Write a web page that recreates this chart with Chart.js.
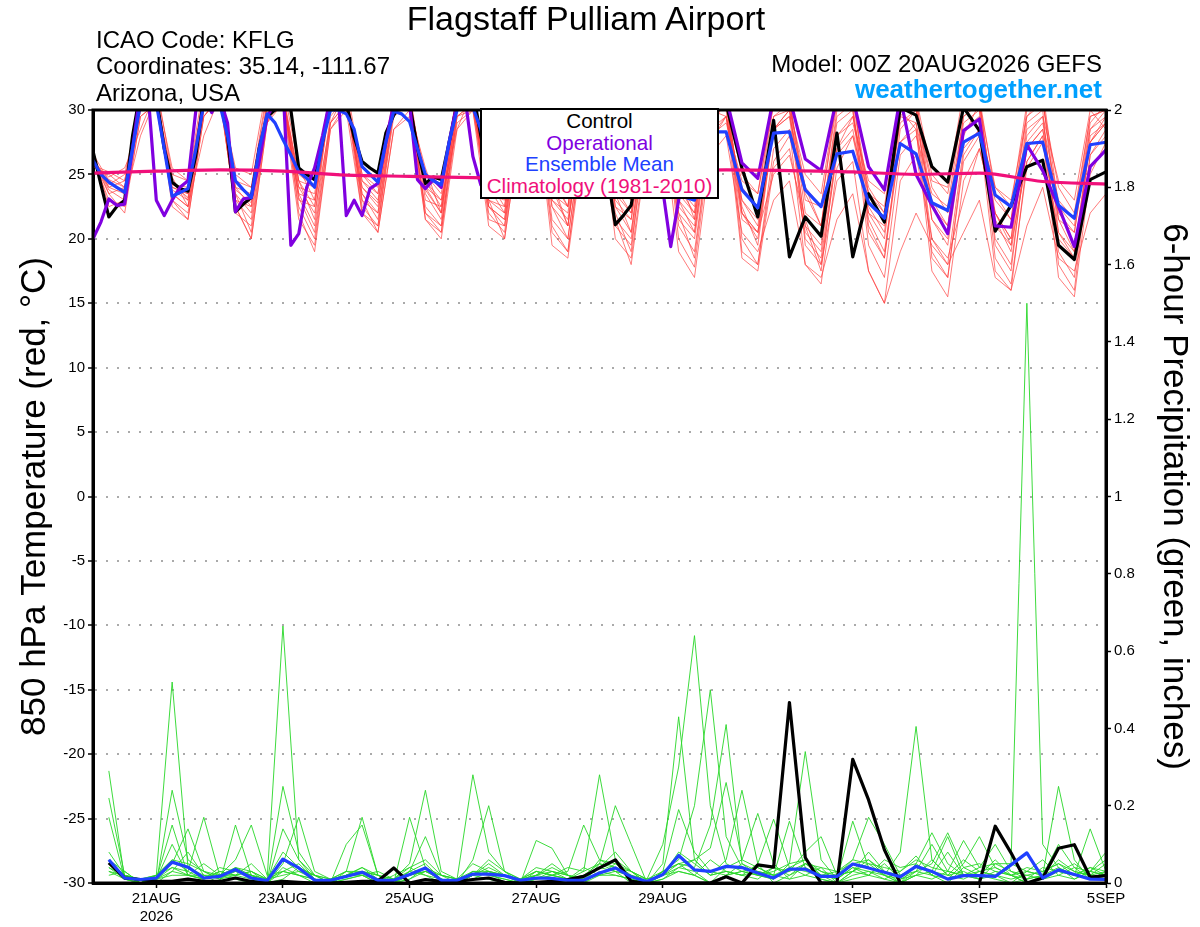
<!DOCTYPE html>
<html><head><meta charset="utf-8">
<script src="https://cdn.jsdelivr.net/npm/chart.js@4.4.1/dist/chart.umd.min.js"></script>
<style>
html,body{margin:0;padding:0;background:#fff;}
body{width:1200px;height:927px;position:relative;overflow:hidden;font-family:"Liberation Sans",Arial,Helvetica,sans-serif;color:#000;}
#wrap{position:absolute;left:0;top:0;width:1200px;height:927px;}
.txt{position:absolute;white-space:nowrap;}
#title{left:0;top:1px;width:1172px;text-align:center;font-size:34px;line-height:34px;}
#info{left:96px;top:27px;font-size:24px;line-height:26.3px;}
#model{right:98px;top:51px;font-size:24px;line-height:26px;text-align:right;}
#site{right:98px;top:76px;font-size:26px;line-height:26px;font-weight:bold;color:#00a0ff;text-align:right;}
#legend{position:absolute;left:480px;top:108px;width:239px;height:91px;box-sizing:border-box;border:2px solid #000;background:#fff;text-align:center;font-size:20.6px;line-height:21.6px;padding-top:0;}
#legend div{margin:0;}
</style></head><body>
<div id="wrap"><canvas id="c" width="1200" height="927"></canvas></div>
<div class="txt" id="title">Flagstaff Pulliam Airport</div>
<div class="txt" id="info">ICAO Code: KFLG<br>Coordinates: 35.14, -111.67<br>Arizona, USA</div>
<div class="txt" id="model">Model: 00Z 20AUG2026 GEFS</div>
<div class="txt" id="site">weathertogether.net</div>
<div id="legend">
<div style="color:#000">Control</div>
<div style="color:#8000e0">Operational</div>
<div style="color:#2040ff">Ensemble Mean</div>
<div style="color:#f0107a">Climatology (1981-2010)</div>
</div>
<script>
// ---------- time grids (hours after 00Z 20AUG2026) ----------
const mainHours = [];
for (let h = 0; h <= 240; h += 3) mainHours.push(h);
for (let h = 246; h <= 384; h += 6) mainHours.push(h);
const memberHours = [];
for (let h = 0; h <= 384; h += 6) memberHours.push(h);
const precipHours = [];
for (let h = 6; h <= 384; h += 6) precipHours.push(h);
const climHours = [0,24,48,72,96,120,144,168,192,216,240,264,288,312,336,360,384];

// ---------- x tick labels ----------
const xTickHours = [24,72,120,168,216,288,336,384];
const xTickLabels = ['21AUG','23AUG','25AUG','27AUG','29AUG','1SEP','3SEP','5SEP'];
const yearLabel = '2026';

// ---------- 850 hPa temperature (deg C) ----------
const controlTemp = [
26.8,24.2,21.7,22.5,23.0,28.0,31.5,32.0,
31.0,27.0,24.4,23.9,23.7,26.5,31.0,32.5,
32.0,28.0,22.1,22.7,23.2,27.0,29.5,30.0,
31.0,30.0,25.5,25.0,24.6,27.5,31.0,32.0,
30.5,27.9,26.0,25.5,25.1,28.2,29.6,30.5,
30.5,27.0,24.3,24.8,24.6,27.5,30.5,32.0,
31.5,28.0,25.0,24.5,24.2,27.5,31.0,32.0,
31.0,28.0,25.0,24.0,23.5,27.0,31.0,31.5,
30.0,25.0,21.1,21.8,22.6,26.0,30.5,31.5,
30.5,27.0,24.0,24.5,24.5,27.5,30.5,31.0,
30.5,
25.5,21.7,29.2,18.6,21.7,20.2,28.2,18.6,23.5,21.3,30.2,29.6,
25.6,24.4,30.2,28.4,20.6,22.6,25.6,26.1,19.5,18.4,24.6,25.2];

const operationalTemp = [
20.0,21.3,23.1,22.6,22.7,27.0,31.5,31.0,
23.0,21.8,23.0,24.0,24.5,30.0,31.0,29.8,
31.0,29.0,22.1,23.1,23.2,26.0,29.5,30.5,
32.0,19.5,20.4,24.0,25.5,28.0,31.0,31.0,
21.8,23.0,21.8,23.9,24.3,27.5,30.5,31.0,
30.5,24.6,23.9,24.6,24.0,27.5,30.5,31.0,
26.4,24.2,24.5,24.0,23.8,27.0,30.5,31.0,
30.0,26.5,24.5,24.0,24.5,27.5,30.5,31.0,
30.0,27.0,25.0,24.0,24.5,27.5,30.5,30.0,
23.8,19.4,23.0,26.0,28.0,30.5,31.0,31.5,
31.0,
25.9,24.7,31.0,31.0,26.2,25.3,31.0,31.0,25.6,23.8,31.0,25.0,
22.6,20.4,28.4,29.3,21.0,20.9,27.3,25.3,22.5,19.4,25.6,26.9];

const meanTemp = [
26.1,25.0,24.4,24.0,23.6,27.0,30.5,30.5,
30.5,27.0,23.3,23.6,23.9,27.0,30.5,30.5,
30.5,28.0,24.5,23.8,23.2,27.0,29.7,29.0,
27.7,26.5,25.2,24.7,24.0,27.5,30.0,30.0,
29.7,28.5,25.6,25.0,24.4,27.5,29.9,29.7,
29.1,27.0,25.0,24.5,24.2,27.5,30.0,30.5,
30.2,28.5,25.5,24.8,24.5,27.5,30.0,30.2,
29.5,27.0,25.0,24.5,24.0,27.0,29.8,30.0,
29.0,26.5,24.5,24.0,23.8,26.5,29.5,30.0,
29.0,26.5,24.0,23.2,23.0,25.0,27.5,28.3,
28.3,
23.8,22.4,28.2,28.3,23.8,22.5,26.6,26.8,22.8,21.6,27.4,26.6,
22.8,22.2,27.5,28.2,23.4,22.5,27.4,27.5,22.6,21.6,27.3,27.5];

const climTemp = [25.1,25.25,25.35,25.25,24.95,24.85,24.75,24.7,24.9,25.2,25.35,25.3,25.2,25.0,25.1,24.45,24.25];

// ensemble members, 6-hourly 00Z 20AUG .. 00Z 5SEP
const tempMembers = [
[26.5, 23.5,24.0,30.5,31, 24.5,23.0,31,32, 23.5,22.0,30,31, 24.5,21.5,31,31, 25.0,24.0,30.5,30, 25.5,22.0,31,32, 23.0,22.5,31,31, 24.0,21.0,30,31, 22.5,20.5,29.5,31, 25.0,21.5,30,29.5, 22.0,20.0,28.5,30, 21.0,17.5,27.0,29.5, 23.5,22.0,31,30, 21.5,19.5,28,30.5, 24.0,23.0,29.5,31, 20.5,18.5,27.5,29],
[25.8, 24.8,25.5,28.5,31.5, 25.5,24.5,32,31, 24.0,23.5,29.0,32, 25.5,23.0,30.5,31, 24.0,22.5,31,31.5, 23.5,21.5,30,31, 25.0,24.0,32,31.5, 22.5,21.0,29.5,30.5, 24.5,23.5,31,30.5, 21.0,19.0,28,29, 24.5,23.5,31,31, 22.0,21.0,29,30, 19.5,17.0,26.5,28, 23.5,22.5,30.5,31, 21.0,19.5,28,29.5, 24.5,23.0,30,28.5],
[26.2, 23.0,22.5,29.5,30.5, 23.0,22.0,30,31.5, 22.0,21.0,29.5,30.5, 22.5,20.0,29,30.5, 23.5,21.5,30,31, 22.0,20.5,29.5,30, 21.0,20.0,28.5,30, 24.5,22.5,31,32, 23.0,21.5,30,31, 24.0,22.0,30.5,30, 18.5,17.5,25.5,27, 20.5,19.0,28,29.5, 24.0,22.0,30,28.5, 17.5,15.5,24.5,27, 22.0,20.0,29,30, 18.0,16.0,26.5,28],
[26.0, 24.0,24.5,31,31, 24.0,23.5,31.5,32, 25.0,24.0,31.5,31, 23.0,22.5,31,32, 25.0,23.5,31,30.5, 24.5,23.0,31,31.5, 24.0,22.0,30.5,31, 23.5,22.5,30.5,31, 22.0,19.0,29.5,30.5, 23.0,20.5,29,30.5, 25.0,23.5,30.5,31, 23.0,22.5,31,32, 21.0,18.5,28.5,30, 24.5,24.0,31.5,31, 23.5,21.5,30,31.5, 22.5,21.0,29,30.5],
[26.6, 24.5,23.5,30,31, 23.5,22.5,28.0,31, 22.5,20.0,29,31, 24.0,22.0,29.0,31.5, 22.5,21.0,30,30.5, 25.0,23.5,31.5,32, 22.5,21.0,29.5,30.5, 20.5,19.0,28,30, 23.5,22.0,30.5,31, 20.0,17.8,27.5,29.5, 23.0,21.5,29.5,30.5, 24.0,21.0,30,31, 22.5,20.5,29.5,29, 20.0,18.0,27,28.5, 17.5,16.0,26,28, 20.0,18.5,27.5,29.5],
[25.6, 25.0,24.0,31,32, 25.0,24.5,31,31.5, 23.0,22.5,30.5,30.5, 23.5,21.0,29.5,31, 24.5,23.0,31,31, 23.0,22.5,30.5,31, 23.5,23.0,31,32, 25.0,22.5,31,31, 21.5,20.0,29,30, 22.5,21.0,29.5,31, 20.0,18.0,27,28.5, 18.0,16.5,25.5,28, 22.0,20.0,29.5,31, 25.0,23.5,30.5,30, 19.5,17.5,27.5,29, 23.0,21.5,29.5,30],
[26.3, 23.8,23.0,30,31, 24.8,22.5,30.5,31.5, 24.5,23.0,29.5,31.5, 22.0,19.0,28.5,30.5, 25.5,24.5,31,31, 24.0,22.0,30,30.5, 22.0,20.5,29,30.5, 21.0,19.0,28.5,30, 25.0,23.0,31,31.5, 24.0,22.5,30.5,31, 22.5,19.5,28.5,30, 25.0,23.5,31,30, 21.5,19.0,27.5,28.5, 19.0,17.0,26.5,28.5, 24.0,22.5,30.5,31, 21.5,19.0,27.5,29],
[26.0, 24.2,25.0,30.5,30.5, 23.5,22.5,30,31, 23.5,20.5,29.5,31, 25.0,24.0,31.5,31.5, 23.5,22.0,30.5,31, 21.5,20.5,29,30, 24.5,22.5,30.5,31, 22.5,20.0,29,30, 20.0,18.5,27.5,29.5, 25.0,24.0,31.5,31.5, 22.0,20.5,25.0,26.5, 21.5,18.0,24.5,26.0, 17.5,15.0,24.5,26.5, 20.0,18.5,23.0,27.0, 22.0,19.5,26.0,28.0, 17.0,15.5,25,27.5],
[26.8, 22.5,23.0,28.0,31, 24.0,23.5,31,31.5, 24.5,24.0,31,31, 24.5,22.5,30.5,31, 23.0,20.5,28.5,29.5, 22.5,21.0,29.5,30.5, 23.0,22.0,30,31, 24.0,23.5,31,31.5, 22.5,21.5,29.5,30.5, 21.5,20.0,28.5,29.5, 24.0,22.5,30.5,31, 19.5,18.0,26.5,28, 23.5,22.5,30.5,31, 21.5,20.0,28.5,29.5, 18.5,16.5,25.5,27.5, 20.5,19.0,28,29],
[25.9, 24.6,24.0,31,31.5, 22.5,21.5,29.5,31, 25.5,25.0,32,31.5, 24.5,24.0,31.5,31.5, 24.5,23.5,31,31, 22.0,21.0,29.5,30.5, 23.0,20.0,28.5,30, 23.0,21.5,30,30.5, 24.0,22.0,30.5,31, 22.0,20.5,29,30.5, 23.0,21.0,29.5,30, 21.0,19.5,28,29, 24.5,23.5,31,31, 22.5,21.0,29.5,30.5, 22.0,20.0,28.5,29.5, 19.0,17.0,26.5,28.5],
[26.4, 24.0,23.5,30.5,31, 23.8,23.0,31,32, 24.0,22.5,30.5,31, 23.5,23.0,31,31, 22.0,21.0,29.5,30.5, 24.5,22.5,30.5,31, 22.5,21.5,29.5,30.5, 24.5,21.0,30,31, 21.0,19.5,28,29.5, 23.5,22.0,30,31, 19.0,18.0,26,28, 23.5,21.0,29.5,30.5, 20.5,18.5,27.5,29, 23.0,21.0,29,30, 20.0,18.0,27,28.5, 22.0,20.5,28.5,30],
[25.7, 25.2,24.5,31,31, 24.2,24.0,29.5,31, 23.0,21.5,30,30.5, 24.0,23.5,31,31.5, 23.0,22.0,30,30.5, 24.0,23.0,28.5,31.5, 21.5,21.0,29,30, 23.0,22.0,30,30.5, 23.5,20.5,29.5,30.5, 22.0,18.5,28,29.5, 21.5,20.5,28.5,29.5, 24.0,22.5,30.5,31, 23.5,21.5,30,31, 18.5,17.0,26,28, 23.0,21.5,29.5,30.5, 24.0,22.0,29.5,30],
[26.1, 23.5,22.0,29.5,30.5, 23.0,21.5,29.5,31, 22.5,20.0,29,30.5, 21.5,19.5,28.5,30, 22.0,20.5,28.5,30, 21.5,20.0,28.5,30, 22.5,21.5,29.5,30.5, 19.5,18.5,27.5,29, 21.5,18.0,27,29, 19.0,17.0,26.5,28, 20.5,19.0,23.0,24.5, 18.0,17.0,21.5,23.5, 17.5,15.0,19.0,22.0, 19.5,18.0,20.5,23.0, 17.0,16.0,21.0,24.0, 18.5,17.5,22.0,23.5],
[26.3, 24.3,23.8,30.5,31, 24.3,23.2,30.5,31.5, 23.8,22.8,30.5,31, 23.2,20.5,29,30.5, 24.0,22.8,30.5,31, 23.8,22.0,30,31, 24.5,23.5,31,31.5, 21.5,20.0,28.5,29.5, 24.0,23.0,30.5,31, 23.0,21.5,29.5,30.5, 22.0,20.5,28.5,29.5, 20.0,18.5,27,28.5, 22.0,21.0,29,30, 24.0,22.0,29.5,30.5, 21.5,19.0,27,28.5, 21.5,20.5,28.5,29.5]
];

// ---------- 6-hour precipitation (inches), 06Z 20AUG .. 00Z 5SEP ----------
const controlPrecip = [
0.052,0.013,0.009,0.004,0.004,0.010,0.004,0.004,
0.013,0.004,0,0.004,0.002,0,0,0.002,
0.004,0.005,0.039,0,0.009,0.004,0.004,0.009,
0.013,0.002,0,0.002,0.004,0.009,0.017,0.039,
0.060,0.004,0,0,0,0,0,0.016,
0,0.047,0.041,0.467,0.066,0,0,0.320,
0.215,0.086,0,0,0,0,0,0,
0.147,0.078,0,0.013,0.090,0.099,0.015,0.019];

const meanPrecip = [
0.060,0.013,0.009,0.013,0.054,0.041,0.013,0.017,
0.035,0.013,0.006,0.062,0.039,0.007,0.007,0.017,
0.028,0.007,0.007,0.022,0.039,0.007,0.007,0.023,
0.023,0.019,0.007,0.013,0.012,0.007,0.007,0.026,
0.039,0.016,0.004,0.022,0.071,0.034,0.030,0.043,
0.040,0.026,0.013,0.036,0.036,0.017,0.017,0.049,
0.039,0.028,0.016,0.043,0.030,0.010,0.019,0.019,
0.017,0.047,0.078,0.013,0.034,0.022,0.010,0.009];

const precipMembers = [
[0.29,0.01,0,0.02,0.06,0.03,0.17,0.02, 0.01,0,0,0.03,0.05,0.01,0,0.02, 0.04,0.01,0,0.03,0.12,0.02,0,0.01, 0.03,0,0,0.02,0.01,0,0,0.05, 0.03,0,0,0.02,0.08,0.05,0.02,0.06, 0.24,0.05,0,0.02,0.04,0.01,0,0.03, 0.06,0.02,0,0.05,0.02,0,0.04,0.02, 0.01,0,0.03,0.02,0.25,0.06,0.01,0.02],
[0.22,0.02,0.01,0,0.03,0.08,0.02,0, 0.15,0.02,0,0.01,0.04,0.02,0,0.01, 0.02,0,0,0.01,0.04,0.01,0,0.06, 0.2,0.03,0,0.01,0.03,0.02,0.01,0.04, 0.08,0.03,0,0.01,0.03,0.02,0,0.04, 0.06,0.18,0.05,0.01,0.02,0.04,0,0.02, 0.03,0.01,0,0.02,0.06,0.02,0.01,0.03, 0.02,0,0.01,0.04,0.03,0.02,0.14,0.03],
[0.17,0.01,0,0.01,0.02,0.02,0.01,0.03, 0.02,0.03,0,0.14,0.06,0.01,0,0.02, 0.03,0,0.02,0.04,0.02,0,0,0.03, 0.02,0.01,0,0.11,0.09,0.02,0,0.02, 0.02,0.01,0,0.03,0.05,0.02,0.06,0.03, 0.02,0.05,0.165,0.04,0.02,0.01,0,0.01, 0.02,0.05,0.01,0.03,0.02,0.08,0.02,0.01, 0.03,0.02,0,0.01,0.02,0.01,0.03,0.08],
[0.08,0.02,0.01,0.02,0.52,0.04,0.02,0.01, 0.03,0.02,0,0.04,0.02,0,0.01,0.03, 0.17,0.02,0,0.03,0.05,0.01,0,0.02, 0.01,0,0,0.01,0.02,0.03,0.15,0.06, 0.04,0.01,0,0.02,0.04,0.06,0.02,0.03, 0.02,0.03,0.02,0.16,0.04,0.02,0,0.03, 0.05,0.02,0,0.02,0.03,0.12,0.02,0.01, 0.02,0.01,0.02,0.03,0.05,0.03,0.02,0.01],
[0.04,0.02,0.01,0,0.24,0.06,0.03,0.01, 0.02,0.01,0,0.05,0.17,0.03,0.01,0.02, 0.03,0.01,0,0.01,0.03,0.02,0.01,0.02, 0.03,0.02,0,0.01,0.02,0.01,0.03,0.28, 0.06,0.03,0,0.02,0.03,0.02,0,0.02, 0.05,0.02,0.01,0.05,0.34,0.06,0.01,0.04, 0.02,0.01,0.03,0.07,0.02,0.01,0.05,0.12, 0.04,0.02,0,0.02,0.04,0.01,0.03,0.02],
[0.06,0.03,0,0.01,0.15,0.02,0.01,0.02, 0.02,0.05,0.01,0.02,0.03,0.02,0,0.1, 0.15,0.02,0,0.02,0.03,0.01,0,0.02, 0.04,0.02,0.01,0.03,0.02,0.01,0.02,0.05, 0.2,0.1,0,0.01,0.04,0.03,0,0.02, 0.03,0.02,0.04,0.03,0.08,0.12,0.02,0.03, 0.08,0.03,0,0.03,0.1,0.03,0.02,0.02, 0.06,0.02,0.01,0.02,0.1,0.04,0.01,0.03],
[0.03,0.01,0,0.02,0.05,0.14,0.03,0.01, 0.04,0.02,0.01,0.03,0.02,0.01,0,0.02, 0.02,0.01,0,0.17,0.04,0.01,0,0.03, 0.02,0.01,0,0.02,0.04,0.02,0,0.03, 0.02,0.01,0,0.05,0.43,0.06,0.02,0.03, 0.02,0.01,0.04,0.02,0.05,0.02,0.01,0.16, 0.04,0.02,0.01,0.02,0.01,0.03,0.11,0.04, 0.1,0.03,0.02,0.01,0.03,0.02,0.04,0.02],
[0.05,0.02,0,0.01,0.03,0.02,0.02,0.02, 0.06,0.15,0.02,0.03,0.02,0.01,0,0.01, 0.02,0,0.01,0.02,0.03,0.01,0,0.02, 0.05,0.02,0,0.03,0.02,0.01,0.04,0.02, 0.05,0.02,0,0.03,0.19,0.08,0.03,0.02, 0.03,0.02,0.01,0.04,0.03,0.02,0.02,0.06, 0.17,0.1,0.02,0.04,0.03,0.02,0.06,0.03, 0.02,0.05,0.03,0.02,0.06,0.03,0.02,0.05],
[0.04,0.01,0.01,0.02,0.04,0.03,0.01,0.03, 0.02,0.03,0.01,0.665,0.06,0.02,0,0.03, 0.03,0.02,0,0.02,0.04,0.02,0.01,0.05, 0.03,0.02,0.01,0.04,0.03,0.01,0.02,0.04, 0.03,0.02,0.01,0.1,0.3,0.64,0.2,0.05, 0.03,0.04,0.02,0.01,0.05,0.03,0.01,0.04, 0.03,0.02,0.08,0.405,0.06,0.02,0.03,0.01, 0.05,0.03,0.01,0.02,0.03,0.05,0.02,0.03],
[0.02,0.03,0,0.01,0.1,0.02,0.01,0.04, 0.03,0.02,0,0.25,0.08,0.02,0.01,0.02, 0.04,0.02,0.01,0.03,0.02,0.01,0,0.02, 0.06,0.03,0.01,0.02,0.05,0.02,0.01,0.02, 0.03,0.02,0,0.03,0.06,0.2,0.5,0.12, 0.04,0.02,0.03,0.05,0.06,0.03,0.02,0.03, 0.02,0.06,0.04,0.05,0.13,0.05,0.02,0.03, 0.04,0.02,0.03,0.06,0.02,0.04,0.03,0.02],
[0.03,0.02,0,0.01,0.04,0.02,0.05,0.02, 0.03,0.02,0.01,0.06,0.03,0.01,0,0.02, 0.03,0.02,0.01,0.05,0.24,0.03,0.01,0.03, 0.03,0.02,0.01,0.03,0.02,0.04,0.03,0.05, 0.04,0.03,0.01,0.02,0.05,0.04,0.15,0.41, 0.05,0.03,0.02,0.04,0.06,0.02,0.03,0.05, 0.06,0.03,0.02,0.03,0.05,0.13,0.04,0.05, 0.03,0.02,0.04,0.03,0.05,0.02,0.03,0.06],
[0.05,0.02,0,0.02,0.06,0.05,0.03,0.02, 0.04,0.03,0.01,0.08,0.04,0.02,0.01,0.03, 0.02,0.03,0.01,0.04,0.06,0.02,0.01,0.28, 0.08,0.03,0.01,0.02,0.03,0.02,0.01,0.06, 0.05,0.03,0.01,0.03,0.05,0.06,0.09,0.26, 0.06,0.04,0.02,0.03,0.05,0.04,0.03,0.06, 0.05,0.04,0.03,0.06,0.04,0.03,0.02,0.04, 0.05,0.05,1.5,0.1,0.04,0.02,0.04,0.03]
];

// ---------- colours ----------
const C_CONTROL = '#000000', C_OPER = '#8000e0', C_MEAN = '#2040ff', C_CLIM = '#f0107a';
const C_MEMBER_T = 'rgba(255,60,60,0.68)', C_MEMBER_P = 'rgba(40,215,40,0.9)';

function pts(hours, vals){ return vals.map((v,i)=>({x:hours[i], y:v})); }

const datasets = [];
datasets.push({data:pts(climHours, climTemp), yAxisID:'yT', borderColor:C_CLIM, borderWidth:3.2, order:0, cubicInterpolationMode:'monotone'});
datasets.push({data:pts(mainHours, meanTemp), yAxisID:'yT', borderColor:C_MEAN, borderWidth:3.2, order:1});
datasets.push({data:pts(precipHours, meanPrecip), yAxisID:'yP', borderColor:C_MEAN, borderWidth:3.2, order:1});
datasets.push({data:pts(mainHours, operationalTemp), yAxisID:'yT', borderColor:C_OPER, borderWidth:3.2, order:2});
datasets.push({data:pts(mainHours, controlTemp), yAxisID:'yT', borderColor:C_CONTROL, borderWidth:3.2, order:3});
datasets.push({data:pts(precipHours, controlPrecip), yAxisID:'yP', borderColor:C_CONTROL, borderWidth:3.2, order:3});
precipMembers.forEach(m=>datasets.push({data:pts(precipHours, m), yAxisID:'yP', borderColor:C_MEMBER_P, borderWidth:1, order:4}));
tempMembers.forEach(m=>datasets.push({data:pts(memberHours, m), yAxisID:'yT', borderColor:C_MEMBER_T, borderWidth:1, order:5}));
datasets.forEach(d=>{d.pointRadius=0; d.fill=false; d.tension=d.tension||0; d.clip=0; d.borderJoinStyle='round';});

const framePlugin = {
  id:'frame',
  afterDatasetsDraw(chart){
    const {ctx, chartArea:a} = chart;
    ctx.save();
    ctx.strokeStyle = '#000';
    ctx.lineWidth = 3;
    ctx.strokeRect(a.left, a.top, a.right-a.left, a.bottom-a.top);
    ctx.restore();
  }
};

Chart.defaults.font.family = '"Liberation Sans", Arial, Helvetica, sans-serif';
Chart.defaults.color = '#000';

new Chart(document.getElementById('c'), {
  type:'line',
  data:{datasets},
  options:{
    responsive:false,
    animation:false,
    events:[],
    layout:{padding:{top:110,left:0,right:0,bottom:0}},
    plugins:{legend:{display:false}, tooltip:{enabled:false}, title:{display:false}},
    scales:{
      x:{
        type:'linear', min:0, max:384,
        afterBuildTicks:(s)=>{ s.ticks = xTickHours.map(v=>({value:v})); },
        afterFit:(s)=>{ s.height = 44; },
        ticks:{
          autoSkip:false, maxRotation:0, minRotation:0, padding:2,
          font:{size:15},
          callback:(v)=>{ const i = xTickHours.indexOf(v); if (i<0) return ''; return i===0 ? [xTickLabels[i], yearLabel] : xTickLabels[i]; }
        },
        grid:{drawOnChartArea:false, drawTicks:true, tickLength:5, tickColor:'#000', tickWidth:1.5},
        border:{display:true, color:'#000', width:3}
      },
      yT:{
        type:'linear', position:'left', min:-30, max:30,
        afterFit:(s)=>{ s.width = 93; },
        ticks:{stepSize:5, font:{size:15}, padding:3},
        grid:{
          drawOnChartArea:true, drawTicks:true, tickLength:5, tickColor:'#000', tickWidth:1.5,
          color:(ctx)=> (ctx.tick && (ctx.tick.value===30 || ctx.tick.value===-30)) ? 'rgba(0,0,0,0)' : '#aaaaaa',
          lineWidth:2
        },
        border:{display:true, color:'#000', width:3, dash:[2,9]},
        title:{display:true, text:'850 hPa Temperature (red, °C)', font:{size:35}, color:'#000', padding:{top:14,bottom:0}}
      },
      yP:{
        type:'linear', position:'right', min:0, max:2,
        afterFit:(s)=>{ s.width = 94; },
        ticks:{stepSize:0.2, font:{size:15}, padding:3, callback:(v)=>String(Math.round(v*10)/10)},
        grid:{drawOnChartArea:false, drawTicks:true, tickLength:5, tickColor:'#000', tickWidth:1.5},
        border:{display:true, color:'#000', width:3},
        title:{display:true, text:'6-hour Precipitation (green, inches)', font:{size:35}, color:'#000', padding:{top:5,bottom:0}}
      }
    }
  },
  plugins:[framePlugin]
});
</script>
</body></html>
